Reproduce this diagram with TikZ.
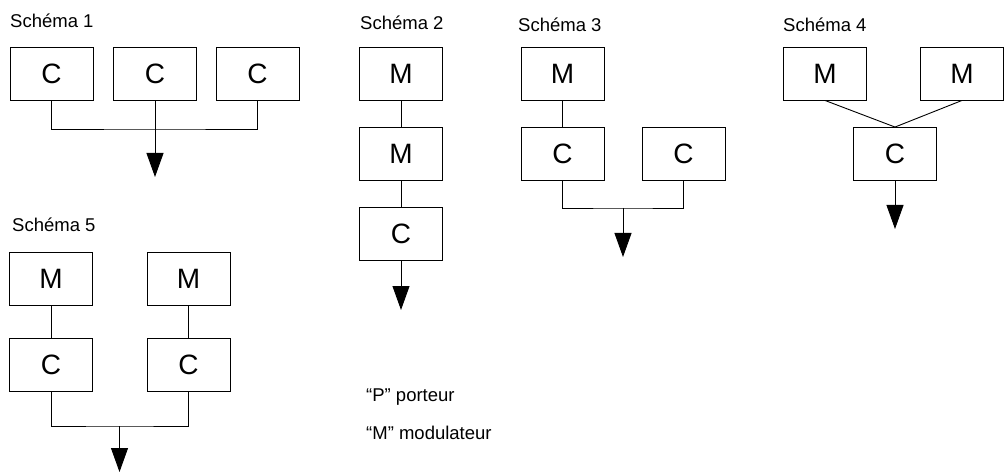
\documentclass[tikz,border=0pt]{standalone}
\usepackage{fontspec}
\setmainfont{Liberation Sans}
\usetikzlibrary{arrows.meta}
\begin{document}
\begin{tikzpicture}[x=1pt,y=-1pt,
  blk/.style={draw, line width=0.9pt, minimum width=83pt, minimum height=53pt, inner sep=0pt, font=\fontsize{28}{30}\selectfont},
  ttl/.style={anchor=base west, inner sep=0pt, font=\fontsize{18.5}{22}\selectfont},
  wire/.style={line width=0.9pt},
  outarrow/.style={line width=0.9pt, -{Triangle[width=17pt,length=24pt]}}]
\useasboundingbox (0,0) rectangle (1004,473);
% Schema 1
\node[ttl] (t1) at (10,28) {Schéma 1};
\node[blk] (a1) at (51.5,73.5) {C};
\node[blk] (a2) at (155,73.5) {C};
\node[blk] (a3) at (257.5,73.5) {C};
\coordinate (o1) at (155,177);
\draw[wire] (a1.south) |- (155,129) -| (a3.south);
\draw[outarrow] (a2.south) -- (o1);
% Schema 2
\node[ttl] (t2) at (360,30) {Schéma 2};
\node[blk] (b1) at (401,73.5) {M};
\node[blk] (b2) at (401,154) {M};
\node[blk] (b3) at (401,234) {C};
\coordinate (o2) at (401,310);
\draw[wire] (b1) -- (b2);
\draw[wire] (b2) -- (b3);
\draw[outarrow] (b3.south) -- (o2);
% Schema 3
\node[ttl] (t3) at (518,32) {Schéma 3};
\node[blk] (c1) at (562.5,73.5) {M};
\node[blk] (c2) at (562.5,154) {C};
\node[blk] (c3) at (683.5,154) {C};
\coordinate (j3) at (623,208);
\coordinate (o3) at (623,257);
\draw[wire] (c1) -- (c2);
\draw[wire] (c2.south) |- (j3) -| (c3.south);
\draw[outarrow] (j3) -- (o3);
% Schema 4
\node[ttl] (t4) at (783,32) {Schéma 4};
\node[blk] (d1) at (825,73.5) {M};
\node[blk] (d2) at (962,73.5) {M};
\node[blk] (d3) at (895,154) {C};
\coordinate (o4) at (895,229);
\draw[wire] (d1.south) -- (d3.north);
\draw[wire] (d2.south) -- (d3.north);
\draw[outarrow] (d3.south) -- (o4);
% Schema 5
\node[ttl] (t5) at (12,232) {Schéma 5};
\node[blk] (e1) at (51,278.5) {M};
\node[blk] (e2) at (51,365) {C};
\node[blk] (e3) at (188.5,278.5) {M};
\node[blk] (e4) at (188.5,365) {C};
\coordinate (j5) at (119.5,426);
\coordinate (o5) at (119.5,472);
\draw[wire] (e1) -- (e2);
\draw[wire] (e3) -- (e4);
\draw[wire] (e2.south) |- (j5) -| (e4.south);
\draw[outarrow] (j5) -- (o5);
% Legend
\node[ttl] (l1) at (366,401) {“P” porteur};
\node[ttl] (l2) at (366,439) {“M” modulateur};
\end{tikzpicture}
\end{document}
